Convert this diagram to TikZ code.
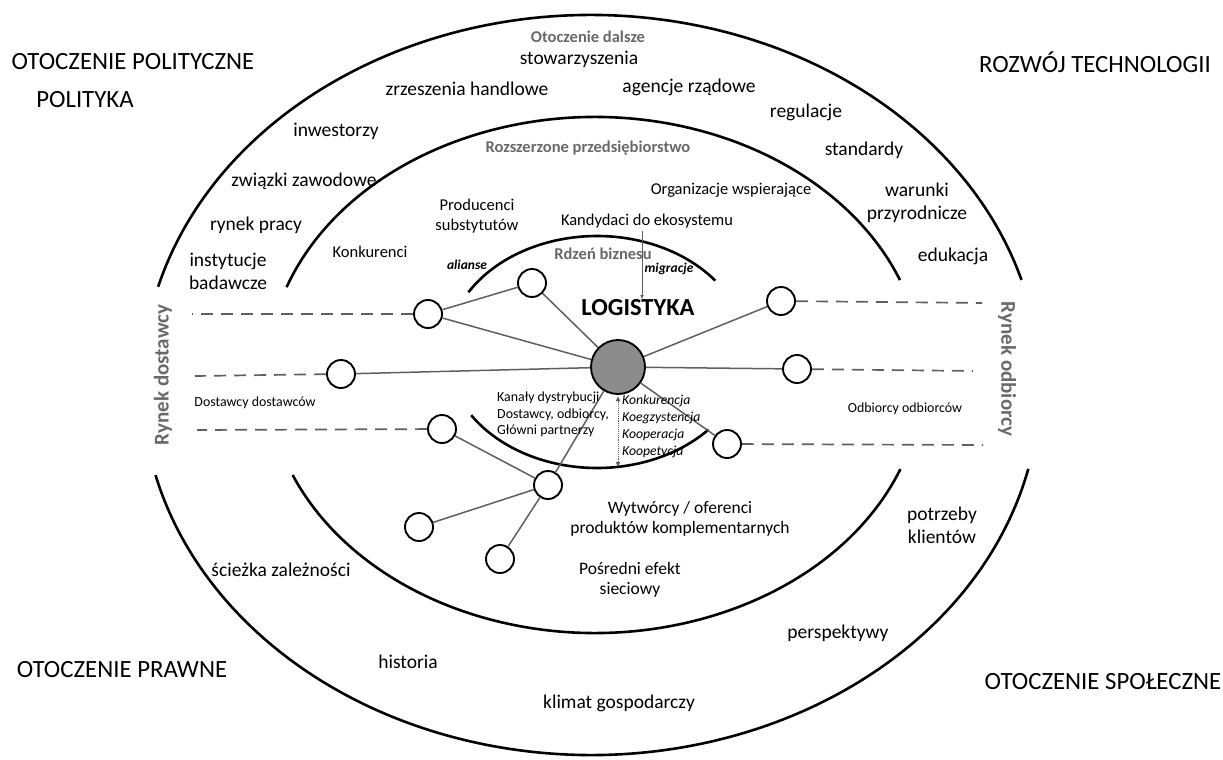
\documentclass[tikz,border=0pt]{standalone}
\usepackage{fontspec}
\setmainfont{Carlito}
\usetikzlibrary{arrows.meta}
\definecolor{txtgray}{RGB}{105,105,105}
\definecolor{hubgray}{RGB}{140,140,140}
\definecolor{linegray}{RGB}{95,95,95}
\tikzset{
  ring/.style={line width=2.6pt, black},
  lab/.style={font=\fontsize{19.5}{23}\selectfont, align=center, inner sep=0pt},
  slab/.style={font=\fontsize{16.5}{19.5}\selectfont, align=center, inner sep=0pt},
  glab/.style={font=\fontsize{16.5}{19}\selectfont\bfseries, text=txtgray, inner sep=0pt},
  big/.style={font=\fontsize{24.8}{28}\selectfont, inner sep=0pt},
  tiny/.style={font=\fontsize{13.9}{16.3}\selectfont, align=left, inner sep=0pt},
  itl/.style={font=\fontsize{13.5}{16}\selectfont\itshape\bfseries, inner sep=0pt},
  sat/.style={circle, draw=black, line width=1.9pt, fill=white, minimum size=28pt, inner sep=0pt},
  hub/.style={circle, draw=black, line width=1.9pt, fill=hubgray, minimum size=54pt, inner sep=0pt},
  link/.style={draw=linegray, line width=1.5pt},
  dashline/.style={draw=linegray, line width=1.7pt, dash pattern=on 12pt off 8pt},
}
\begin{document}
\begin{tikzpicture}[x=1pt,y=-1pt]
\useasboundingbox (0,0) rectangle (1223,760);
% rings
\coordinate (oc) at (591,385);
\coordinate (mc) at (595,375);
\coordinate (ic) at (597,352);
\draw[ring] (oc) ++(195.4:449 and 370) arc[start angle=195.4, end angle=343.5, x radius=449, y radius=370];
\draw[ring] (oc) ++(13.1:449 and 370) arc[start angle=13.1, end angle=165.9, x radius=449, y radius=370];
\draw[ring] (mc) ++(199.9:328 and 258) arc[start angle=199.9, end angle=338.4, x radius=328, y radius=258];
\draw[ring] (mc) ++(21.4:328 and 258) arc[start angle=21.4, end angle=157.2, x radius=328, y radius=258];
\draw[ring] (ic) ++(211:150 and 116) arc[start angle=211, end angle=322, x radius=150, y radius=116];
\draw[ring] (ic) ++(42:150 and 116) arc[start angle=42, end angle=147, x radius=150, y radius=116];

% network nodes
\node[hub] (hub) at (618,367) {};
\node[sat] (A) at (428,314) {};
\node[sat] (B) at (532,283) {};
\node[sat] (C) at (341,374) {};
\node[sat] (D) at (442,429) {};
\node[sat] (E) at (781,301) {};
\node[sat] (F) at (797,369) {};
\node[sat] (G) at (727,444) {};
\node[sat] (H) at (548,485) {};
\node[sat] (I) at (419,527) {};
\node[sat] (J) at (500,559) {};

\draw[link] (hub) -- (A);
\draw[link] (hub) -- (B);
\draw[link] (A) -- (B);
\draw[link] (hub) -- (C);
\draw[link] (hub) -- (E);
\draw[link] (hub) -- (F);
\draw[link] (hub) -- (G);
\draw[link] (hub) -- (H);
\draw[link] (D) -- (H);
\draw[link] (H) -- (I);
\draw[link] (H) -- (J);

% dashed market lines
\coordinate (dA) at (192,314);
\coordinate (dC) at (195,376);
\coordinate (dD) at (197,430);
\coordinate (dE) at (982,303);
\coordinate (dF) at (973,371);
\coordinate (dG) at (983,445);
\draw[dashline] (A) -- (dA);
\draw[dashline] (C) -- (dC);
\draw[dashline] (D) -- (dD);
\draw[dashline] (E) -- (dE);
\draw[dashline] (F) -- (dF);
\draw[dashline] (G) -- (dG);

% arrows
\coordinate (vtop) at (618,396);
\coordinate (vbot) at (618,467);
\draw[draw=linegray, line width=0.9pt, densely dotted, {Latex[length=5pt,width=5pt]}-{Latex[length=5pt,width=5pt]}] (vtop) -- (vbot);
\coordinate (ktop) at (642,231);
\coordinate (kbot) at (642,299);
\draw[draw=linegray, line width=0.8pt, -{Latex[length=4pt,width=4pt]}] (ktop) -- (kbot);

% corner labels
\node[big] (pol) at (133,62) {OTOCZENIE POLITYCZNE};
\node[big] (poli) at (85,100) {POLITYKA};
\node[big] (tech) at (1095,62) {ROZWÓJ TECHNOLOGII};
\node[big] (praw) at (122,670) {OTOCZENIE PRAWNE};
\node[big] (spol) at (1103,682) {OTOCZENIE SPOŁECZNE};

% outer ring labels
\node[glab] (od) at (588,37) {Otoczenie dalsze};
\node[lab] (stow) at (579,59) {stowarzyszenia};
\node[lab] (zrz) at (467,89) {zrzeszenia handlowe};
\node[lab] (agen) at (689,87) {agencje rządowe};
\node[lab] (reg) at (806,112) {regulacje};
\node[lab] (inw) at (336,131) {inwestorzy};
\node[lab] (std) at (864,150) {standardy};
\node[lab] (zwi) at (304,181) {związki zawodowe};
\node[lab] (war) at (917,203) {warunki\\przyrodnicze};
\node[lab] (ryn) at (256,225) {rynek pracy};
\node[lab] (ins) at (228,271) {instytucje\\badawcze};
\node[lab] (edu) at (953,256) {edukacja};
\node[lab] (sci) at (281,570) {ścieżka zależności};
\node[lab] (hist) at (408,662) {historia};
\node[lab] (klim) at (619,703) {klimat gospodarczy};
\node[lab] (pers) at (838,633) {perspektywy};
\node[lab] (potr) at (942,525) {potrzeby\\klientów};

% middle ring labels
\node[glab] (rozs) at (588,148) {Rozszerzone przedsiębiorstwo};
\node[slab] (org) at (731,190) {Organizacje wspierające};
\node[slab] (prod) at (477,216) {Producenci\\substytutów};
\node[slab] (kand) at (647,221) {Kandydaci do ekosystemu};
\node[slab] (konk) at (370,252) {Konkurenci};
\node[lab, font=\fontsize{17.5}{20}\selectfont] (wyt) at (680,519) {Wytwórcy / oferenci\\produktów komplementarnych};
\node[lab, font=\fontsize{17.5}{20}\selectfont] (posr) at (630,580) {Pośredni efekt\\sieciowy};

% core labels
\node[glab] (rdz) at (603,254) {Rdzeń biznesu};
\node[itl] (ali) at (467,265) {alianse};
\node[itl] (mig) at (669,269) {migracje};
\node[font=\fontsize{24.5}{28}\selectfont\bfseries, inner sep=0pt] (log) at (638,308) {LOGISTYKA};
\node[tiny, anchor=north west] (kan) at (497,392) {Kanały dystrybucji\\Dostawcy, odbiorcy,\\Główni partnerzy};
\node[itl, align=left, anchor=north west, font=\fontsize{13.7}{17}\selectfont\itshape] (kk) at (622,395) {Konkurencja\\Koegzystencja\\Kooperacja\\Koopetycja};

% markets
\node[tiny] (dd) at (255,403) {Dostawcy dostawców};
\node[tiny] (oo) at (905,409) {Odbiorcy odbiorców};
\node[font=\fontsize{21}{24}\selectfont\bfseries, text=txtgray, rotate=90, inner sep=0pt] (rd) at (163,375) {Rynek dostawcy};
\node[font=\fontsize{21}{24}\selectfont\bfseries, text=txtgray, rotate=-90, inner sep=0pt] (ro) at (1007,369) {Rynek odbiorcy};
\end{tikzpicture}
\end{document}
